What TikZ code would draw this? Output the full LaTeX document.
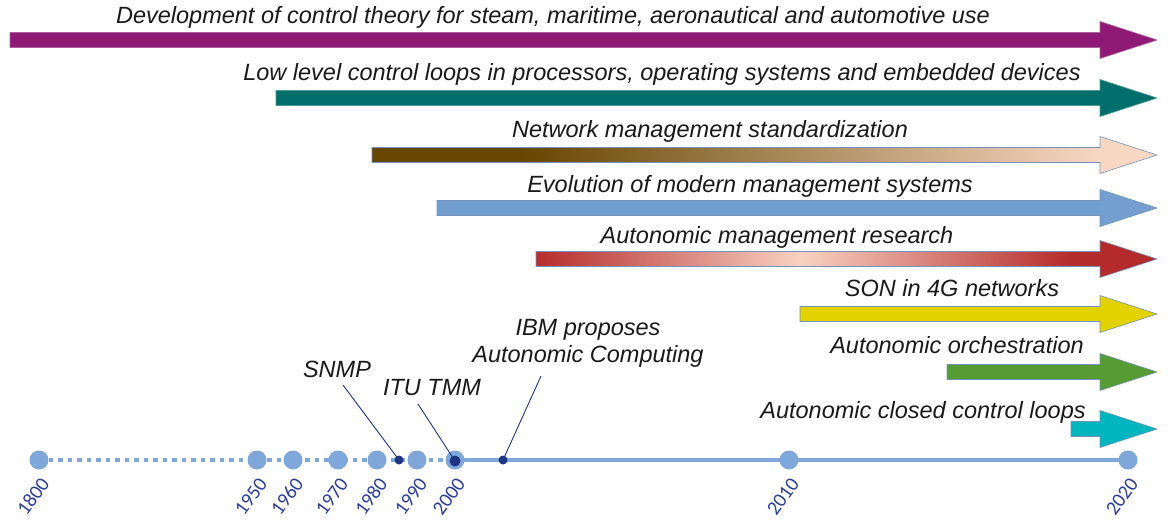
\documentclass[tikz,border=0pt]{standalone}
\usepackage{fontspec}
\setmainfont{Liberation Sans}
\newfontfamily\yearfont{Carlito}
\usetikzlibrary{calc}
\definecolor{cPurple}{HTML}{8E1A76}
\definecolor{cTeal}{HTML}{006E6B}
\definecolor{cBrown}{HTML}{664600}
\definecolor{cPeach}{HTML}{F8D7C3}
\definecolor{cBlue}{HTML}{729FCF}
\definecolor{cOutline}{HTML}{3465A4}
\definecolor{cRed}{HTML}{B52B2B}
\definecolor{cRedLight}{HTML}{F8D2C2}
\definecolor{cYellow}{HTML}{E2D200}
\definecolor{cGreen}{HTML}{579B33}
\definecolor{cCyan}{HTML}{00B5BD}
\definecolor{cTimeline}{HTML}{7FA7D9}
\definecolor{cNavy}{HTML}{1F3583}
\definecolor{cYear}{HTML}{2B3F96}
\newcommand\drawArr[3]{\path[#3] (#1,{#2-7.5}) -- (1100,{#2-7.5}) -- (1100,{#2-18.5}) -- (1157,#2) -- (1100,{#2+18.5}) -- (1100,{#2+7.5}) -- (#1,{#2+7.5}) -- cycle;}
\newcommand\clipArr[2]{\clip (#1,{#2-7.5}) -- (1100,{#2-7.5}) -- (1100,{#2-18.5}) -- (1157,#2) -- (1100,{#2+18.5}) -- (1100,{#2+7.5}) -- (#1,{#2+7.5}) -- cycle;}
\tikzset{
  lbl/.style={inner sep=0pt, anchor=base, text=black!90, font=\fontsize{23.5}{27}\selectfont\itshape},
  outl/.style={draw=cOutline!70, line width=0.6pt},
  tl/.style={draw=cTimeline, line width=4.5pt},
  bigdot/.style={circle, fill=cTimeline, minimum size=19pt, inner sep=0pt},
  smalldot/.style={circle, fill=cNavy, minimum size=9pt, inner sep=0pt},
  year/.style={inner sep=0pt, anchor=east, rotate=54, text=cYear, font=\yearfont\fontsize{20}{22}\selectfont},
  pointer/.style={draw=cNavy, line width=0.9pt}
}
\begin{document}
\begin{tikzpicture}[x=1pt,y=-1pt]
\useasboundingbox (0,0) rectangle (1171,520);

% --- arrows ---
\drawArr{10}{40}{fill=cPurple, draw=cPurple!70!white, line width=0.6pt}
\drawArr{276}{98}{fill=cTeal, draw=cTeal!70!white, line width=0.6pt}

\begin{scope}
  \clipArr{372}{155}
  \fill[cBrown] (370,130) rectangle (521,180);
  \shade[left color=cBrown, right color=cPeach] (520,130) rectangle (1101,180);
  \fill[cPeach] (1100,130) rectangle (1160,180);
\end{scope}
\drawArr{372}{155}{outl}

\drawArr{437}{208}{fill=cBlue, outl}

\begin{scope}
  \clipArr{536}{259}
  \shade[left color=cRed, right color=cRedLight] (534,235) rectangle (801,285);
  \shade[left color=cRedLight, right color=cRed] (800,235) rectangle (1071,285);
  \fill[cRed] (1070,235) rectangle (1160,285);
\end{scope}
\drawArr{536}{259}{outl}

\drawArr{800}{314}{fill=cYellow, outl}
\drawArr{947}{372}{fill=cGreen, outl}
\drawArr{1071}{429}{fill=cCyan, outl}

% --- arrow labels ---
\node[lbl] (l1) at (553,23) {Development of control theory for steam, maritime, aeronautical and automotive use};
\node[lbl] (l2) at (662,80) {Low level control loops in processors, operating systems and embedded devices};
\node[lbl] (l3) at (710,137) {Network management standardization};
\node[lbl] (l4) at (750,192) {Evolution of modern management systems};
\node[lbl] (l5) at (777,243) {Autonomic management research};
\node[lbl] (l6) at (952,296) {SON in 4G networks};
\node[lbl] (l7) at (957,353) {Autonomic orchestration};
\node[lbl] (l8) at (923,418) {Autonomic closed control loops};

% --- timeline ---
\coordinate (p1800) at (39,460);
\coordinate (p1950) at (257,460);
\coordinate (p1960) at (293,460);
\coordinate (p1970) at (338,460);
\coordinate (p1980) at (377,460);
\coordinate (p1990) at (417,460);
\coordinate (p2000) at (455,460);
\coordinate (p2010) at (789,460);
\coordinate (p2020) at (1128,460);

\draw[tl, dash pattern=on 4.5pt off 5pt] (p1800) -- (p2000);
\draw[tl] (p2000) -- (p2020);

\foreach \y in {1800,1950,1960,1970,1980,1990,2000,2010,2020}{
  \node[bigdot] (d\y) at (p\y) {};
  \node[year] (t\y) at ($(p\y)+(6,20)$) {\y};
}

% --- events ---
\node[smalldot] (snmp) at (399,460) {};
\node[smalldot, minimum size=11pt] (itu) at (455,461) {};
\node[smalldot] (ibm) at (503,460) {};

\node[lbl] (snmpL) at (337,377) {SNMP};
\node[lbl] (ituL) at (432,395) {ITU TMM};
\node[lbl, anchor=south, align=center] (ibmL) at (588,368) {IBM proposes\\Autonomic Computing};

\coordinate (snmpS) at (343,385);
\coordinate (ituS) at (418,404);
\coordinate (ibmS) at (541,376);
\draw[pointer] (snmpS) -- (snmp.center);
\draw[pointer] (ituS) -- (itu.center);
\draw[pointer] (ibmS) -- (ibm.center);
\end{tikzpicture}
\end{document}
